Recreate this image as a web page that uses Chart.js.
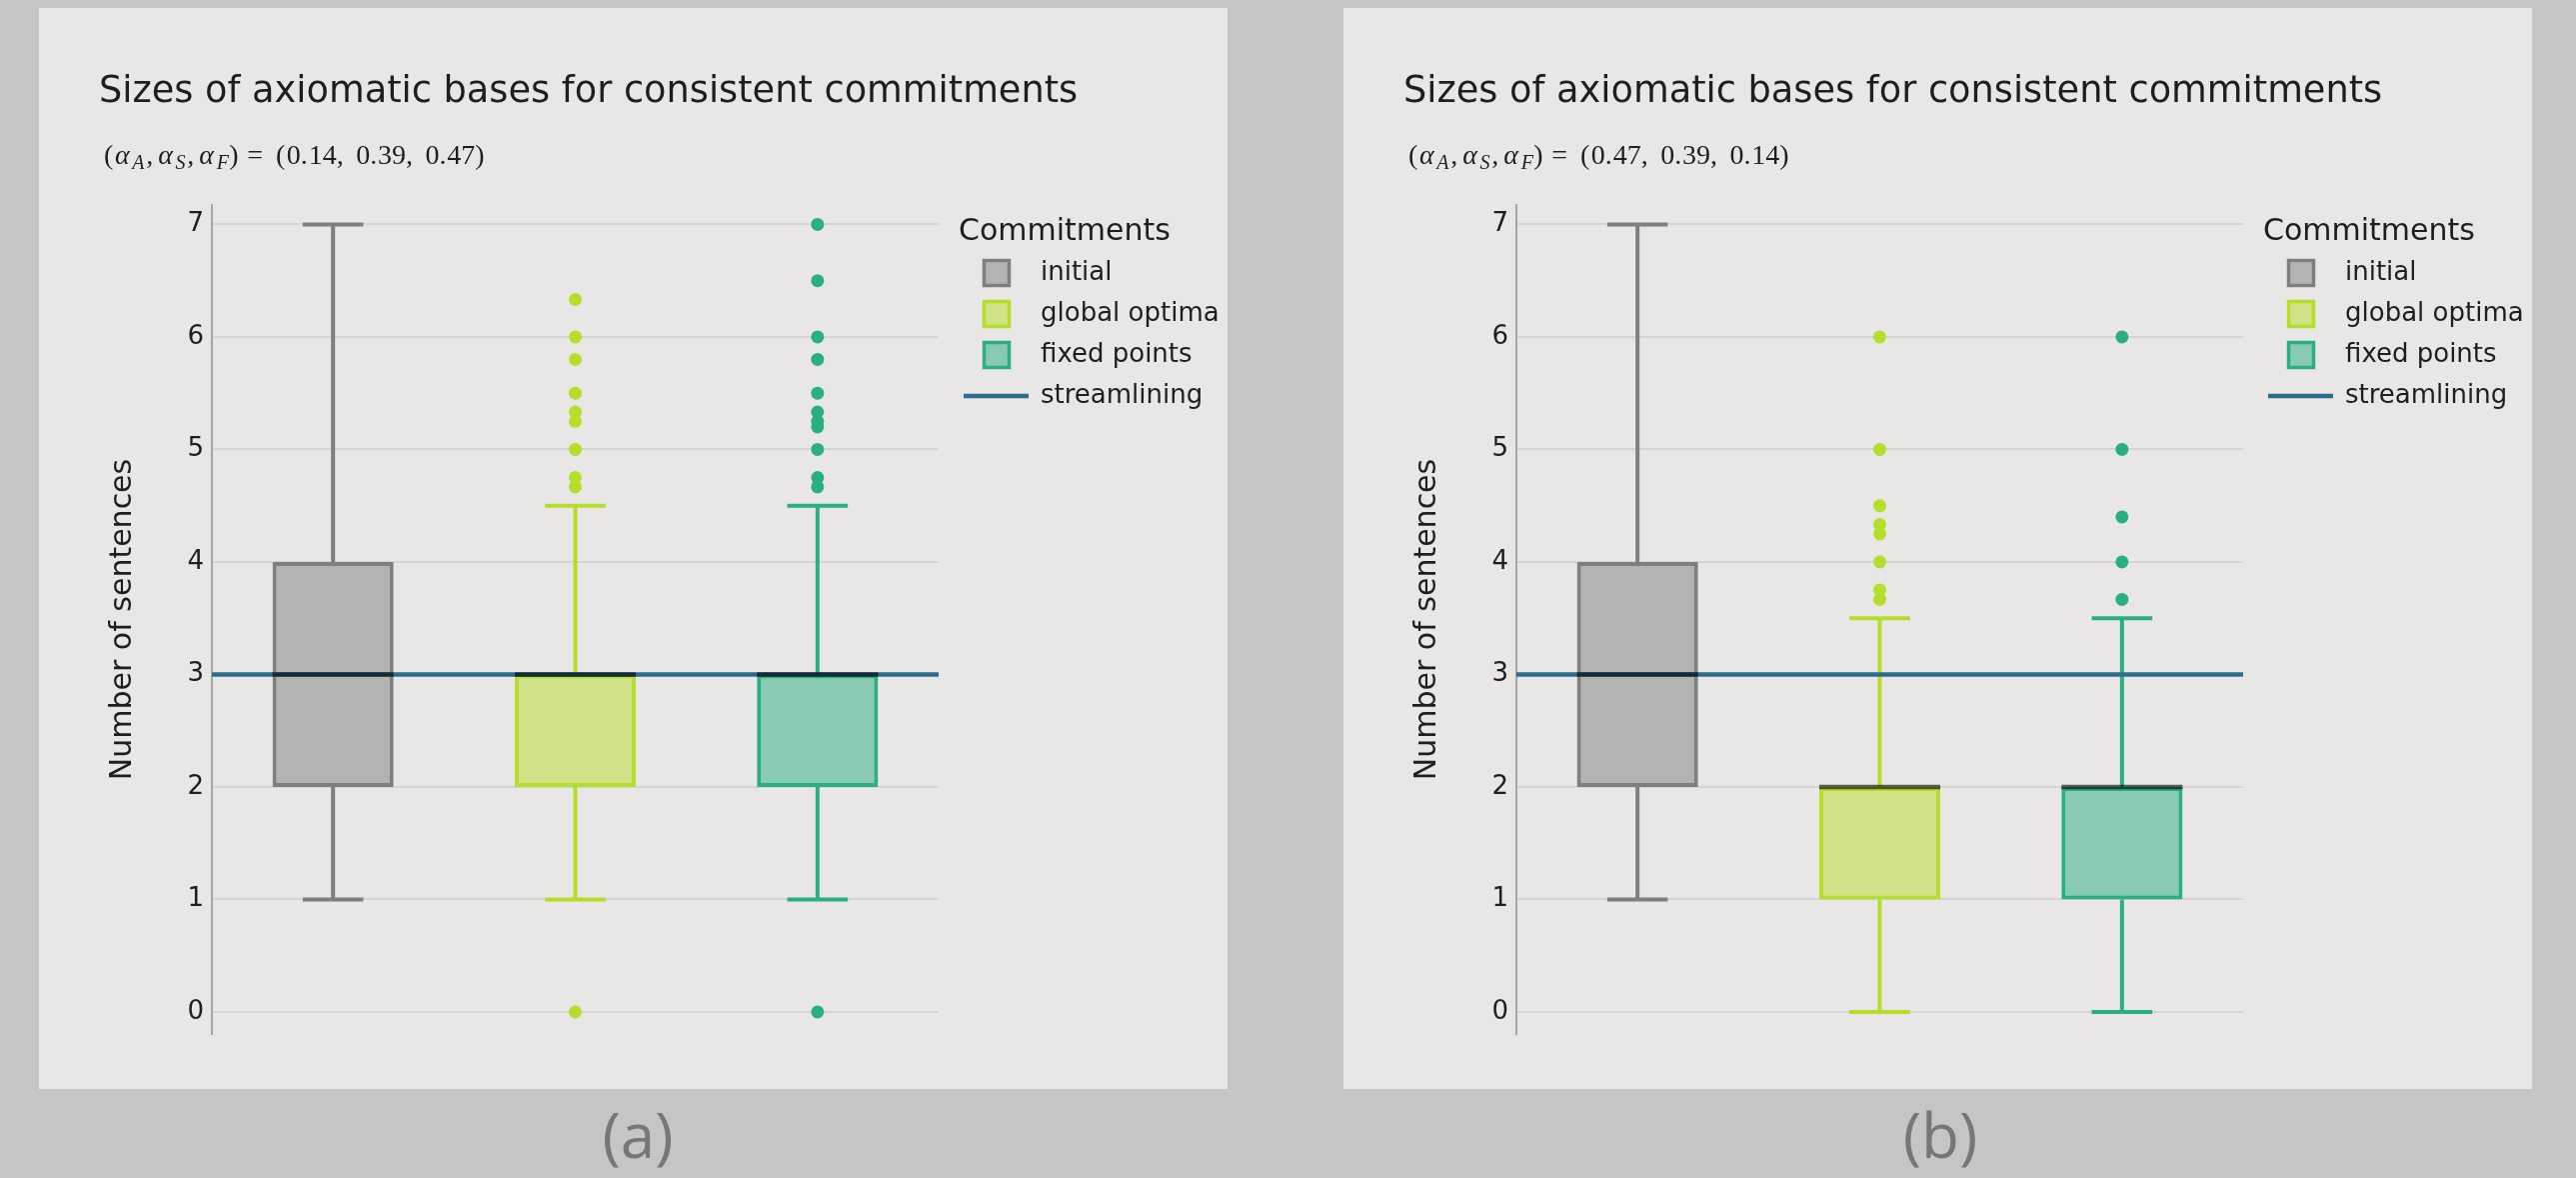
<!DOCTYPE html>
<html>
<head>
<meta charset="utf-8">
<script src="https://cdn.jsdelivr.net/npm/chart.js@4.4.1/dist/chart.umd.min.js"></script>
<style>
  html, body { margin: 0; padding: 0; background: #c4c5c4; width: 2577px; height: 1178px; overflow: hidden; }
  .panel { position: absolute; top: 8px; width: 1189px; height: 1081px; background: #e8e7e5; }
  .panel canvas { display: block; }
  .caption { position: absolute; top: 1103px; width: 200px; text-align: center; font-family: "Open Sans", sans-serif;
             font-size: 62px; line-height: 62px; color: #777777; }
</style>
</head>
<body>
<div class="panel" style="left:39px"><canvas id="chartA" width="1189" height="1081"></canvas></div>
<div class="panel" style="left:1344px"><canvas id="chartB" width="1189" height="1081"></canvas></div>
<div class="caption" style="left:538px">(a)</div>
<div class="caption" style="left:1841px">(b)</div>
<script>
// ---- data -------------------------------------------------------------
const CATEGORIES = ['initial', 'global optima', 'fixed points'];
const LEGEND_TITLE = 'Commitments';
const REFERENCE_LABEL = 'streamlining';
const STREAMLINING_SIZE = 3;
const Y_TICKS = [0, 1, 2, 3, 4, 5, 6, 7];
const CHART_TITLE = 'Sizes of axiomatic bases for consistent commitments';
const Y_TITLE = 'Number of sentences';

// panel (a): weights (alpha_A, alpha_S, alpha_F)
const WEIGHTS_A = ['0.14', '0.39', '0.47'];
const LOWER_A  = [1, 1, 1];
const Q1_A     = [2, 2, 2];
const MEDIAN_A = [3, 3, 3];
const Q3_A     = [4, 3, 3];
const UPPER_A  = [7, 4.5, 4.5];
const OUTLIERS_A_INITIAL = [];
const OUTLIERS_A_GLOBAL  = [0, 4.667, 4.75, 5, 5.25, 5.333, 5.5, 5.8, 6, 6.333];
const OUTLIERS_A_FIXED   = [0, 4.667, 4.75, 5, 5.2, 5.25, 5.333, 5.5, 5.8, 6, 6.5, 7];

// panel (b)
const WEIGHTS_B = ['0.47', '0.39', '0.14'];
const LOWER_B  = [1, 0, 0];
const Q1_B     = [2, 1, 1];
const MEDIAN_B = [3, 2, 2];
const Q3_B     = [4, 2, 2];
const UPPER_B  = [7, 3.5, 3.5];
const OUTLIERS_B_INITIAL = [];
const OUTLIERS_B_GLOBAL  = [3.667, 3.75, 4, 4.25, 4.333, 4.5, 5, 6];
const OUTLIERS_B_FIXED   = [3.667, 4, 4.4, 5, 6];

// ---- styles -----------------------------------------------------------
const LINE_COLORS = ['#7f7f7f', '#b5de2b', '#2ab07f'];
const REF_COLOR = '#2e6c8e';
const TEXT_COLOR = '#1e1e1e';
const SANS = '"DejaVu Sans", Verdana, sans-serif';
const SERIF = '"Liberation Serif", "DejaVu Serif", serif';

function withAlpha(hex, a) {
  const n = parseInt(hex.slice(1), 16);
  return `rgba(${(n >> 16) & 255}, ${(n >> 8) & 255}, ${n & 255}, ${a})`;
}

// whiskers, caps, the streamlining reference line and medians
const boxDecor = {
  id: 'boxDecor',
  afterDatasetsDraw(chart, args, o) {
    const { ctx, chartArea, scales: { x, y } } = chart;
    const bars = chart.getDatasetMeta(0).data;
    ctx.save();
    ctx.lineCap = 'butt';
    o.lower.forEach((lo, i) => {
      const cx = x.getPixelForValue(i);
      const capHalf = bars[i].width / 4;
      ctx.strokeStyle = LINE_COLORS[i];
      ctx.lineWidth = 4;
      ctx.beginPath();
      ctx.moveTo(cx, y.getPixelForValue(o.q3[i]));
      ctx.lineTo(cx, y.getPixelForValue(o.upper[i]));
      ctx.moveTo(cx, y.getPixelForValue(o.q1[i]));
      ctx.lineTo(cx, y.getPixelForValue(lo));
      [o.upper[i], lo].forEach(v => {
        const py = y.getPixelForValue(v);
        ctx.moveTo(cx - capHalf, py);
        ctx.lineTo(cx + capHalf, py);
      });
      ctx.stroke();
    });
    const ry = y.getPixelForValue(o.reference);
    ctx.strokeStyle = REF_COLOR;
    ctx.lineWidth = 4.5;
    ctx.beginPath();
    ctx.moveTo(chartArea.left, ry);
    ctx.lineTo(chartArea.right, ry);
    ctx.stroke();
    ctx.strokeStyle = 'rgba(0, 0, 0, 0.6)';
    ctx.lineWidth = 4.5;
    o.median.forEach((m, i) => {
      const py = y.getPixelForValue(m);
      ctx.beginPath();
      ctx.moveTo(bars[i].x - bars[i].width / 2, py);
      ctx.lineTo(bars[i].x + bars[i].width / 2, py);
      ctx.stroke();
    });
    ctx.restore();
  }
};

// legend block to the right of the plot
const sideLegend = {
  id: 'sideLegend',
  afterDraw(chart, args, o) {
    const { ctx, chartArea } = chart;
    const x0 = chartArea.right, y0 = chartArea.top;
    ctx.save();
    ctx.fillStyle = TEXT_COLOR;
    ctx.textAlign = 'left';
    ctx.textBaseline = 'middle';
    ctx.font = `30px ${SANS}`;
    ctx.fillText(o.title, x0 + 20, y0 + 27);
    ctx.font = `26px ${SANS}`;
    o.labels.forEach((lab, i) => {
      const cy = y0 + 68 + i * 41;
      ctx.fillStyle = withAlpha(LINE_COLORS[i], 0.5);
      ctx.fillRect(x0 + 44, cy - 14, 28, 28);
      ctx.strokeStyle = LINE_COLORS[i];
      ctx.lineWidth = 3.5;
      ctx.strokeRect(x0 + 45.5, cy - 12.5, 25, 25);
      ctx.fillStyle = TEXT_COLOR;
      ctx.fillText(lab, x0 + 102, cy);
    });
    const ly = y0 + 68 + o.labels.length * 41;
    ctx.strokeStyle = REF_COLOR;
    ctx.lineWidth = 4.5;
    ctx.beginPath();
    ctx.moveTo(x0 + 25, ly);
    ctx.lineTo(x0 + 90, ly);
    ctx.stroke();
    ctx.fillStyle = TEXT_COLOR;
    ctx.fillText(o.refLabel, x0 + 102, ly);
    ctx.restore();
  }
};

// heading: chart title plus "(αA, αS, αF) = (w1, w2, w3)" set in math style
const heading = {
  id: 'heading',
  afterDraw(chart, args, o) {
    const { ctx } = chart;
    ctx.save();
    ctx.fillStyle = TEXT_COLOR;
    ctx.textAlign = 'left';
    ctx.textBaseline = 'middle';
    ctx.font = `36.7px ${SANS}`;
    ctx.fillText(o.title, o.x, o.titleY);

    const s = 28;
    const up = `${s}px ${SERIF}`, it = `italic ${s}px ${SERIF}`, sub = `italic ${Math.round(s * 0.72)}px ${SERIF}`;
    const adv = ch => ({ '(': .389, ')': .389, '.': .278, ',': .278, ' ': .42 }[ch] ?? .5);
    const runs = [
      ['(', up, 0, .389], ['\u03b1', it, 0, .62], ['A', sub, 1, .5], [',', up, 0, .278 + .15],
      ['\u03b1', it, 0, .62], ['S', sub, 1, .42], [',', up, 0, .278 + .15],
      ['\u03b1', it, 0, .62], ['F', sub, 1, .45], [')', up, 0, .389 + .25], ['=', up, 0, .778 + .25]
    ];
    ('(' + o.weights.join(', ') + ')').split('').forEach(ch => runs.push([ch, up, 0, adv(ch)]));
    let x = o.x + 5;
    const base = o.mathY + 0.27 * s;
    ctx.textBaseline = 'alphabetic';
    runs.forEach(([t, f, isSub, a]) => {
      ctx.font = f;
      ctx.fillText(t, x, base + (isSub ? 0.2 * s : 0));
      x += a * s;
    });
    ctx.restore();
  }
};

function makePanel(id, weights, lower, q1, median, q3, upper, outliers) {
  const scatterSets = outliers.map((vals, i) => ({
    type: 'scatter',
    label: CATEGORIES[i],
    data: vals.map(v => ({ x: CATEGORIES[i], y: v })),
    pointRadius: 6.5,
    pointBackgroundColor: LINE_COLORS[i],
    pointBorderWidth: 0,
    showLine: false
  }));
  return new Chart(document.getElementById(id), {
    type: 'bar',
    data: {
      labels: CATEGORIES,
      datasets: [{
        type: 'bar',
        label: 'boxes',
        data: q1.map((v, i) => [v, q3[i]]),
        backgroundColor: LINE_COLORS.map(c => withAlpha(c, 0.5)),
        borderColor: LINE_COLORS,
        borderWidth: 4,
        borderSkipped: false,
        barPercentage: 0.5,
        categoryPercentage: 1
      }, ...scatterSets]
    },
    options: {
      responsive: false,
      animation: false,
      devicePixelRatio: 1,
      events: [],
      layout: { padding: { left: 60, right: 289, top: 197, bottom: 55 } },
      scales: {
        x: { type: 'category', labels: CATEGORIES, display: false, offset: true },
        y: {
          min: -0.196, max: 7.173,
          afterBuildTicks: s => { s.ticks = Y_TICKS.map(v => ({ value: v })); },
          afterFit: s => { s.width = 113; },
          grid: { color: '#d5d5d3', lineWidth: 2, drawTicks: false },
          border: { display: true, color: '#a6a6a6', width: 2 },
          ticks: { padding: 8, color: TEXT_COLOR, font: { family: SANS, size: 26 } },
          title: { display: true, text: Y_TITLE, color: TEXT_COLOR, font: { family: SANS, size: 30 }, padding: { top: 6, bottom: 0 } }
        }
      },
      plugins: {
        legend: { display: false },
        tooltip: { enabled: false },
        title: { display: false },
        boxDecor: { lower, q1, median, q3, upper, reference: STREAMLINING_SIZE },
        sideLegend: { title: LEGEND_TITLE, labels: CATEGORIES, refLabel: REFERENCE_LABEL },
        heading: { title: CHART_TITLE, weights, x: 60, titleY: 84, mathY: 148 }
      }
    },
    plugins: [boxDecor, sideLegend, heading]
  });
}

makePanel('chartA', WEIGHTS_A, LOWER_A, Q1_A, MEDIAN_A, Q3_A, UPPER_A,
  [OUTLIERS_A_INITIAL, OUTLIERS_A_GLOBAL, OUTLIERS_A_FIXED]);
makePanel('chartB', WEIGHTS_B, LOWER_B, Q1_B, MEDIAN_B, Q3_B, UPPER_B,
  [OUTLIERS_B_INITIAL, OUTLIERS_B_GLOBAL, OUTLIERS_B_FIXED]);
</script>
</body>
</html>
